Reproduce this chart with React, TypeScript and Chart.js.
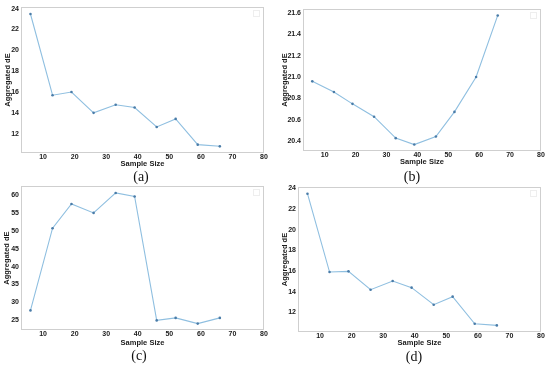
import React, { useEffect, useRef } from "react";
import { Chart, registerables } from "chart.js";

Chart.register(...registerables);

const SAMPLE_SIZES = [6, 13, 19, 26, 33, 39, 46, 52, 59, 66];
const DE_A = [23.48, 15.69, 16.0, 14.0, 14.77, 14.51, 12.65, 13.42, 10.95, 10.79];
const DE_B = [20.96, 20.86, 20.75, 20.63, 20.43, 20.37, 20.445, 20.675, 21.0, 21.575];
const DE_C = [27.7, 50.8, 57.6, 55.1, 60.7, 59.7, 24.9, 25.6, 24.0, 25.6];
const DE_D = [23.48, 15.9, 15.97, 14.19, 15.03, 14.39, 12.74, 13.52, 10.9, 10.74];

const X_TICKS = [10, 20, 30, 40, 50, 60, 70, 80];
const Y_TICKS_A = [12, 14, 16, 18, 20, 22, 24];
const Y_TICKS_B = [20.4, 20.6, 20.8, 21.0, 21.2, 21.4, 21.6];
const Y_TICKS_C = [25, 30, 35, 40, 45, 50, 55, 60];
const Y_TICKS_D = [12, 14, 16, 18, 20, 22, 24];

const X_TITLE = "Sample Size";
const Y_TITLE = "Aggregated dE";
const CAPTIONS = ["(a)", "(b)", "(c)", "(d)"];

const FONT = "'Liberation Sans', Arial, sans-serif";

const framePlugin = {
  id: "frame",
  beforeDatasetsDraw(chart: any) {
    const { ctx, chartArea: a } = chart;
    ctx.save();
    ctx.strokeStyle = "#cfcfcf";
    ctx.lineWidth = 1;
    const l = Math.round(a.left) + 0.5;
    const t = Math.round(a.top) + 0.5;
    const r = Math.round(a.right) - 0.5;
    const b = Math.round(a.bottom) - 0.5;
    ctx.strokeRect(l, t, r - l, b - t);
    // empty legend box (faint)
    ctx.strokeStyle = "#eeeeee";
    ctx.strokeRect(r - 10, t + 3, 6, 6);
    ctx.restore();
  },
};

type PanelProps = {
  left: number;
  top: number;
  width: number;
  height: number;
  values: number[];
  yTicks: number[];
  yMin: number;
  yMax: number;
  decimals: number;
  padTop: number;
  padRight: number;
  yAxisWidth: number;
  xAxisHeight: number;
  yTitleOffset: number;
  xTitleBottom: number;
};

function Panel(p: PanelProps) {
  const ref = useRef<HTMLCanvasElement | null>(null);
  useEffect(() => {
    if (!ref.current) return;
    const tickFont = { family: FONT, size: 7, weight: "bold" as const };
    const titleFont = { family: FONT, size: 7.5, weight: "bold" as const, lineHeight: 1.2 };
    const chart = new Chart(ref.current, {
      type: "line",
      data: {
        datasets: [
          {
            data: SAMPLE_SIZES.map((x, i) => ({ x, y: p.values[i] })),
            borderColor: "#8fbfe0",
            borderWidth: 1.1,
            pointRadius: 1.3,
            pointBackgroundColor: "#4a7ca8",
            pointBorderColor: "#4a7ca8",
            pointBorderWidth: 0,
            tension: 0,
          },
        ],
      },
      options: {
        responsive: false,
        animation: false,
        layout: { padding: { top: p.padTop, right: p.padRight, left: 0, bottom: 0 } },
        plugins: { legend: { display: false }, tooltip: { enabled: false } },
        scales: {
          x: {
            type: "linear",
            min: 3,
            max: 80,
            grid: { display: false, drawTicks: false },
            border: { display: false },
            afterBuildTicks: (s: any) => {
              s.ticks = X_TICKS.map((v) => ({ value: v }));
            },
            afterFit: (s: any) => {
              s.height = p.xAxisHeight;
            },
            ticks: { padding: 0.3, color: "#1a1a1a", font: tickFont, maxRotation: 0, autoSkip: false },
            title: {
              display: true,
              text: X_TITLE,
              color: "#1a1a1a",
              font: titleFont,
              padding: { top: 0, bottom: p.xTitleBottom },
            },
          },
          y: {
            type: "linear",
            min: p.yMin,
            max: p.yMax,
            grid: { display: false, drawTicks: false },
            border: { display: false },
            afterBuildTicks: (s: any) => {
              s.ticks = p.yTicks.map((v) => ({ value: v }));
            },
            afterFit: (s: any) => {
              s.width = p.yAxisWidth;
            },
            ticks: {
              padding: 2,
              color: "#1a1a1a",
              font: tickFont,
              autoSkip: false,
              callback: (v: any) => Number(v).toFixed(p.decimals),
            },
            title: {
              display: true,
              text: Y_TITLE,
              color: "#1a1a1a",
              font: titleFont,
              padding: { top: p.yTitleOffset, bottom: 0 },
            },
          },
        },
      },
      plugins: [framePlugin],
    });
    return () => chart.destroy();
  }, []);
  return (
    <canvas
      ref={ref}
      width={p.width}
      height={p.height}
      style={{ position: "absolute", left: p.left, top: p.top, width: p.width, height: p.height }}
    />
  );
}

function Caption({ text, cx, cy }: { text: string; cx: number; cy: number }) {
  return (
    <div
      style={{
        position: "absolute",
        left: cx - 20,
        top: cy - 8,
        width: 40,
        height: 16,
        lineHeight: "16px",
        textAlign: "center",
        fontFamily: "'Liberation Serif', 'Times New Roman', serif",
        fontSize: 14,
        color: "#111",
      }}
    >
      {text}
    </div>
  );
}

export default function App() {
  return (
    <div
      style={{
        position: "absolute",
        left: 0,
        top: 0,
        width: 550,
        height: 367,
        background: "#fff",
        overflow: "hidden",
      }}
    >
      <Panel
        left={0}
        top={0}
        width={275}
        height={170}
        values={DE_A}
        yTicks={Y_TICKS_A}
        yMin={10.15}
        yMax={24.15}
        decimals={0}
        padTop={7}
        padRight={11}
        yAxisWidth={21}
        xAxisHeight={17}
        yTitleOffset={3}
        xTitleBottom={1.5}
      />
      <Panel
        left={275}
        top={0}
        width={275}
        height={170}
        values={DE_B}
        yTicks={Y_TICKS_B}
        yMin={20.31}
        yMax={21.635}
        decimals={1}
        padTop={9}
        padRight={9}
        yAxisWidth={28}
        xAxisHeight={19}
        yTitleOffset={5.3}
        xTitleBottom={3.5}
      />
      <Panel
        left={0}
        top={180}
        width={275}
        height={170}
        values={DE_C}
        yTicks={Y_TICKS_C}
        yMin={22.2}
        yMax={62.6}
        decimals={0}
        padTop={6}
        padRight={11}
        yAxisWidth={21}
        xAxisHeight={20}
        yTitleOffset={2.8}
        xTitleBottom={3}
      />
      <Panel
        left={275}
        top={180}
        width={275}
        height={170}
        values={DE_D}
        yTicks={Y_TICKS_D}
        yMin={10.1}
        yMax={24.13}
        decimals={0}
        padTop={7}
        padRight={9}
        yAxisWidth={23}
        xAxisHeight={18}
        yTitleOffset={5.3}
        xTitleBottom={2.2}
      />
      <Caption text={CAPTIONS[0]} cx={141} cy={177} />
      <Caption text={CAPTIONS[1]} cx={412} cy={177} />
      <Caption text={CAPTIONS[2]} cx={139} cy={356} />
      <Caption text={CAPTIONS[3]} cx={414} cy={357} />
    </div>
  );
}
